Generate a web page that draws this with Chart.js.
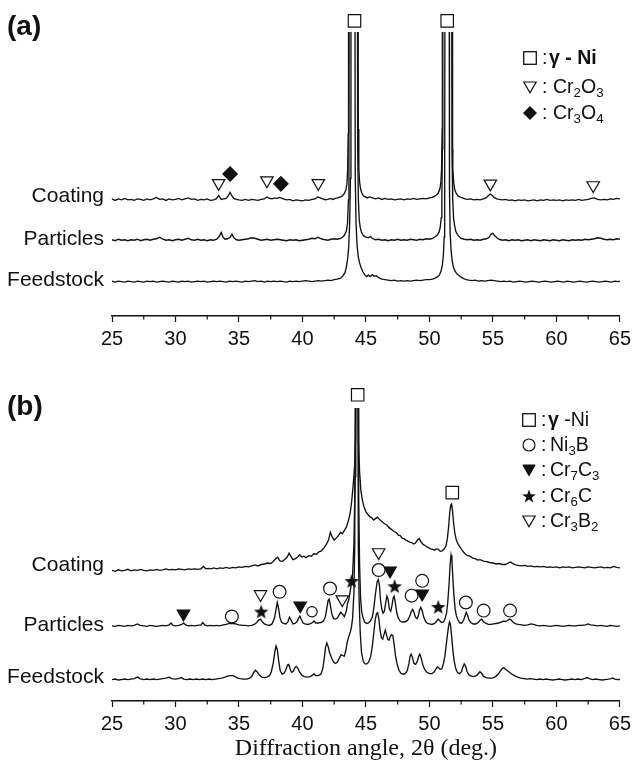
<!DOCTYPE html>
<html><head><meta charset="utf-8">
<script src="https://cdn.jsdelivr.net/npm/chart.js@4.4.1/dist/chart.umd.min.js"></script>
<style>
html,body{margin:0;padding:0;background:#fff;}
body{width:636px;height:764px;position:relative;overflow:hidden;font-family:"Liberation Sans",Arial,sans-serif;color:#111;}
canvas{position:absolute;left:0;}
.t{position:absolute;white-space:nowrap;line-height:1;}
.lab{font-size:21px;text-align:right;right:532px;}
.pan{font-size:28px;font-weight:bold;left:7px;}
.leg{font-size:19.5px;}
.leg sub{font-size:0.68em;vertical-align:-0.3em;line-height:0;}
svg{position:absolute;overflow:visible;}
</style></head><body>
<canvas id="cA" width="636" height="360" style="top:0px"></canvas>
<canvas id="cB" width="636" height="388" style="top:376px"></canvas>
<div id="overlay"></div>
<script>
// ---------------- data ----------------
const sampleNames = ['Coating', 'Particles', 'Feedstock'];
const panelNames = ['(a)', '(b)'];
const xRange = [25, 65];
const majorStep = 5;
const minorTickValues = [27.5, 32.5, 37.5, 42.5, 47.5, 52.5, 57.5, 62.5];
const axisTitle = 'Diffraction angle, 2\u03B8 (deg.)';

// panel (a) traces: [2theta, intensity, ...] (offset stacked, arbitrary units)
const coatingA = [25,119, 25.25,117.5, 25.5,119, 25.75,118, 26,119.5, 26.25,118, 26.5,118.5, 26.75,117.5, 27,119, 27.25,118.5, 27.5,117.5, 27.75,119, 28,118, 28.25,119, 28.5,120.5, 28.75,118.5, 29,119, 29.25,117.5, 29.5,119, 29.75,118, 30,118.5, 30.25,119.5, 30.5,118, 30.75,119, 31,120, 31.25,118.5, 31.5,119, 31.75,117.5, 32,118.5, 32.25,118, 32.5,119, 32.75,117.5, 33,118, 33.2,119, 33.4,122.5, 33.6,118.5, 33.8,119, 34,119.5, 34.15,122, 34.3,125.5, 34.45,122, 34.6,119.5, 34.8,118.5, 35,118, 35.25,117.5, 35.5,118.5, 35.75,117.5, 36,118.5, 36.25,118, 36.5,117.5, 36.75,118.5, 37,119, 37.2,121, 37.4,119.5, 37.6,119, 37.8,120, 38,119.5, 38.2,120.5, 38.4,119.5, 38.6,118.5, 38.8,118, 39,118.5, 39.25,117, 39.5,118, 39.75,117.5, 40,117, 40.25,118, 40.5,117.5, 40.75,118.5, 41,119, 41.2,121, 41.4,120, 41.6,119, 41.8,118, 42,118.5, 42.2,119.5, 42.4,118.5, 42.6,119.5, 42.8,120, 43,121, 43.15,122, 43.3,124.5, 43.42,128, 43.5,134, 43.56,148, 43.6,185, 43.63,420, 44,900, 44.37,420, 44.4,190, 44.44,150, 44.5,136, 44.58,129, 44.68,125, 44.8,122, 44.95,121, 45.1,120, 45.3,121, 45.5,120, 45.75,119, 46,120, 46.25,118.5, 46.5,119.5, 46.75,118.5, 47,119, 47.25,118, 47.5,118.5, 47.75,119, 48,118, 48.25,119, 48.5,118.5, 48.75,119.5, 49,118.5, 49.25,119, 49.5,119.5, 49.75,119, 50,120, 50.2,120.5, 50.4,121.5, 50.55,123, 50.7,125, 50.82,129, 50.9,135, 50.96,150, 51,190, 51.02,420, 51.4,900, 51.78,420, 51.8,190, 51.85,150, 51.92,135, 52,128, 52.1,125, 52.25,122, 52.4,121, 52.6,120, 52.8,119, 53,118.5, 53.25,119, 53.5,118, 53.75,118.5, 54,118, 54.25,119, 54.45,120, 54.65,122.5, 54.8,124, 54.95,122.5, 55.1,120.5, 55.3,119, 55.5,118.5, 55.75,118, 56,118.5, 56.25,117.5, 56.5,118, 56.75,117, 57,118, 57.25,117.5, 57.5,118, 57.75,117, 58,117.5, 58.25,118, 58.5,117, 58.75,118, 59,117.5, 59.25,118.5, 59.5,117.5, 59.75,118, 60,117.5, 60.25,118, 60.5,117, 60.75,118, 61,117.5, 61.25,118, 61.5,117.5, 61.75,118.5, 62,117.5, 62.25,118, 62.5,118.5, 62.75,119.5, 63,120, 63.25,118.5, 63.5,118, 63.75,118.5, 64,118, 64.25,119, 64.5,118.5, 64.75,119.5, 65,119];

const particlesA = [25,77.5, 25.25,76.5, 25.5,78, 25.75,77, 26,77.5, 26.25,76.5, 26.5,77.5, 26.75,77, 27,78, 27.25,76.5, 27.5,77.5, 27.75,78, 28,77, 28.25,78, 28.5,78.5, 28.75,80, 29,78, 29.25,77, 29.5,77.5, 29.75,76.5, 30,77.5, 30.25,78, 30.5,77, 30.75,78, 31,79, 31.25,77.5, 31.5,77, 31.75,78, 32,77, 32.25,77.5, 32.5,76.5, 32.75,77.5, 33,77, 33.25,78, 33.45,81, 33.6,85, 33.75,80, 33.9,78, 34.1,78.5, 34.3,80, 34.45,83, 34.6,79.5, 34.8,77.5, 35,77, 35.25,77.5, 35.5,78, 35.75,78.5, 36,79.5, 36.25,79, 36.5,78, 36.75,77, 37,77.5, 37.25,78, 37.5,77, 37.75,77.5, 38,78, 38.25,77.5, 38.5,77, 38.75,76.5, 39,77.5, 39.25,77, 39.5,77.5, 39.75,76.5, 40,77, 40.25,77.5, 40.5,78, 40.75,79, 41,78.5, 41.2,80, 41.4,79, 41.6,78, 41.8,77.5, 42,77, 42.25,78, 42.5,78.5, 42.75,78, 43,79, 43.15,80, 43.3,82, 43.45,86, 43.55,94, 43.62,118, 43.66,170, 43.69,420, 44,900, 44.32,420, 44.35,170, 44.4,120, 44.47,98, 44.55,90, 44.65,85, 44.78,82, 44.9,81, 45.05,80, 45.2,79.5, 45.35,81, 45.5,79, 45.75,77.5, 46,78, 46.25,77, 46.5,77.5, 46.75,76.5, 47,77.5, 47.25,77, 47.5,78, 47.75,77, 48,77.5, 48.25,77, 48.5,78, 48.75,77.5, 49,77, 49.25,78, 49.5,77.5, 49.75,78.5, 50,78, 50.25,79, 50.45,80.5, 50.6,82, 50.75,85, 50.85,90, 50.93,100, 50.98,120, 51.02,170, 51.05,420, 51.4,900, 51.75,420, 51.78,170, 51.83,120, 51.9,100, 51.98,92, 52.08,86, 52.2,83, 52.35,80.5, 52.5,79, 52.75,78, 53,77.5, 53.25,78, 53.5,77, 53.75,77.5, 54,77, 54.25,78, 54.5,78.5, 54.7,80, 54.85,83, 55,84, 55.15,81.5, 55.35,79, 55.5,78, 55.75,77, 56,77.5, 56.25,76.5, 56.5,77.5, 56.75,77, 57,77.5, 57.25,76.5, 57.5,77, 57.75,77.5, 58,76.5, 58.25,77.5, 58.5,77, 58.75,76.5, 59,77.5, 59.25,77, 59.5,76.5, 59.75,77.5, 60,77, 60.25,76.5, 60.5,77.5, 60.75,77, 61,76.5, 61.25,77.5, 61.5,77, 61.75,77.5, 62,77, 62.25,78, 62.5,77.5, 62.75,78, 63,78.5, 63.25,79.5, 63.5,79, 63.75,78, 64,77.5, 64.25,78, 64.5,77.5, 64.75,78.5, 65,78];

const feedstockA = [25,35.5, 25.25,34.5, 25.5,35.5, 25.75,35, 26,34.5, 26.25,35.5, 26.5,35, 26.75,34.5, 27,35.5, 27.25,35, 27.5,34.5, 27.75,35.5, 28,35, 28.25,35.5, 28.5,34.5, 28.75,35, 29,35.5, 29.25,35, 29.5,34.5, 29.75,35.5, 30,35, 30.25,34.5, 30.5,35.5, 30.75,35, 31,35.5, 31.25,34.5, 31.5,35, 31.75,35.5, 32,35, 32.25,35.5, 32.5,34.5, 32.75,35, 33,35.5, 33.25,35, 33.5,35.5, 33.75,35, 34,34.5, 34.25,35.5, 34.5,35, 34.75,35.5, 35,35, 35.25,34.5, 35.5,35.5, 35.75,35, 36,35.5, 36.25,36, 36.5,35, 36.75,35.5, 37,34.5, 37.25,35.5, 37.5,35, 37.75,35.5, 38,35, 38.25,35.5, 38.5,35, 38.75,34.5, 39,35.5, 39.25,35, 39.5,35.5, 39.75,35, 40,35.5, 40.25,36, 40.5,35.5, 40.75,35, 41,35.5, 41.25,36, 41.5,35.5, 41.75,36, 42,36.5, 42.25,36, 42.5,37, 42.75,37.5, 43,38.5, 43.2,41, 43.35,44, 43.46,50, 43.56,58, 43.64,70, 43.72,95, 43.78,140, 43.82,420, 44,900, 44.12,420, 44.16,140, 44.22,95, 44.3,72, 44.4,60, 44.5,54, 44.62,49, 44.76,45, 44.9,42, 45.05,40, 45.2,41.5, 45.35,40, 45.5,42, 45.65,40.5, 45.8,41, 46,39, 46.25,37.5, 46.5,37, 46.75,36.5, 47,36, 47.25,36.5, 47.5,35.5, 47.75,36, 48,35.5, 48.25,36, 48.5,35.5, 48.75,36, 49,36.5, 49.25,36, 49.5,36.5, 49.75,37, 50,37, 50.25,37.5, 50.45,38.5, 50.65,40, 50.8,42, 50.92,46, 51.02,52, 51.1,62, 51.16,80, 51.2,130, 51.23,420, 51.4,900, 51.55,420, 51.58,130, 51.63,85, 51.7,68, 51.78,57, 51.88,50, 52,46, 52.1,44, 52.2,42.5, 52.35,41, 52.5,39.5, 52.7,38, 52.9,37, 53.1,36.5, 53.35,36, 53.6,36.5, 53.85,35.5, 54.1,36, 54.35,35.5, 54.6,36, 54.85,36.5, 55.1,36, 55.35,35.5, 55.6,35, 55.85,35.5, 56.1,35, 56.35,35.5, 56.6,34.5, 56.85,35, 57.1,35.5, 57.35,35, 57.6,34.5, 57.85,35, 58.1,35.5, 58.35,35, 58.6,34.5, 58.85,35, 59.1,35.5, 59.35,35, 59.6,34.5, 59.85,35, 60.1,35.5, 60.35,35, 60.6,34.5, 60.85,35.5, 61.1,35, 61.35,34.5, 61.6,35, 61.85,35.5, 62.1,35, 62.35,34.5, 62.6,35, 62.85,35.5, 63.1,35, 63.35,34.5, 63.6,35, 63.85,35.5, 64.1,35, 64.35,34.5, 64.6,35.5, 64.85,35, 65,35.5];

// panel (b) traces
const coatingB = [25,134, 25.25,133, 25.5,134.5, 25.75,133.5, 26,134, 26.25,135, 26.5,133.5, 26.75,134.5, 27,134, 27.25,135, 27.5,134, 27.75,133.5, 28,134.5, 28.25,134, 28.5,135, 28.75,134, 29,134.5, 29.25,135.5, 29.5,134.5, 29.75,135, 30,134.5, 30.25,135.5, 30.5,135, 30.75,134.5, 31,135.5, 31.25,135, 31.5,135.5, 31.75,135, 32,135.5, 32.2,138, 32.4,135.5, 32.6,136, 32.8,135.5, 33,136.5, 33.25,135.5, 33.5,136.5, 33.75,136, 34,137, 34.25,136, 34.5,137, 34.75,136.5, 35,137.5, 35.25,137, 35.5,138, 35.75,137.5, 36,138.5, 36.25,139.5, 36.5,138.5, 36.75,140, 37,140.5, 37.25,141.5, 37.5,141, 37.7,143, 37.9,146, 38.05,147.5, 38.2,144, 38.4,143, 38.6,145, 38.8,147.5, 38.95,151.5, 39.1,148, 39.25,145, 39.45,146, 39.65,148, 39.8,150, 39.95,147.5, 40.1,148.5, 40.3,147, 40.5,149, 40.7,148.5, 40.9,151, 41.1,150.5, 41.3,153, 41.5,154, 41.7,157, 41.9,161, 42.05,165, 42.2,173, 42.35,168, 42.5,165, 42.65,167, 42.8,169, 43,173, 43.15,171.5, 43.3,175, 43.45,178, 43.6,184, 43.75,192, 43.88,205, 44,222, 44.1,240, 44.18,268, 44.24,400, 44.36,400, 44.42,265, 44.5,235, 44.6,216, 44.72,206, 44.85,199, 45,194, 45.15,191.5, 45.3,189, 45.45,188, 45.6,185.5, 45.75,187, 45.9,188.5, 46.05,186.5, 46.2,184.5, 46.35,183, 46.5,181.5, 46.65,180.5, 46.8,178, 46.95,176.5, 47.1,175, 47.25,173.5, 47.4,172.5, 47.55,170, 47.7,169.5, 47.85,167, 48,166.5, 48.15,165, 48.3,164, 48.45,163, 48.6,162.5, 48.75,161, 48.9,162, 49.05,165, 49.2,166.5, 49.35,163, 49.5,160.5, 49.65,159.5, 49.8,158, 49.95,157, 50.1,156, 50.25,155.5, 50.4,154.5, 50.55,156, 50.7,155.5, 50.85,153.5, 51,154, 51.15,155.5, 51.3,159, 51.42,167, 51.52,180, 51.6,193, 51.68,201, 51.75,202, 51.82,195, 51.9,183, 52,172, 52.12,165, 52.25,161, 52.4,158, 52.55,155, 52.7,152.5, 52.85,150.5, 53,149, 53.2,148.5, 53.4,146.5, 53.6,146, 53.8,144.5, 54,145, 54.25,143.5, 54.5,143, 54.75,142, 55,141.5, 55.25,140.5, 55.5,141, 55.75,140, 56,140, 56.2,141.5, 56.4,142.5, 56.6,140.5, 56.8,139.5, 57,139, 57.25,138.5, 57.5,139, 57.75,138, 58,138.5, 58.25,137.5, 58.5,138, 58.75,137.5, 59,138, 59.25,137, 59.5,137.5, 59.75,137, 60,137.5, 60.25,136.5, 60.5,137.5, 60.75,137, 61,137.5, 61.25,136.5, 61.5,137, 61.75,137.5, 62,137, 62.25,136.5, 62.5,137.5, 62.75,137, 63,136.5, 63.25,137, 63.5,137.5, 63.75,136.5, 64,137, 64.25,136.5, 64.5,138, 64.75,137, 65,136.5];

const particlesB = [25,77, 25.25,76.5, 25.5,77.5, 25.75,77, 26,76.5, 26.25,77.5, 26.5,77, 26.75,77.5, 27,79, 27.2,77.5, 27.5,77, 27.75,76.5, 28,77.5, 28.25,77, 28.5,76.5, 28.75,77, 29,77.5, 29.25,77, 29.5,78, 29.65,80, 29.8,77.5, 30,77, 30.25,77.5, 30.5,78.5, 30.65,80, 30.8,78, 31,77, 31.25,77.5, 31.5,77, 31.75,77.5, 32,78, 32.15,80.5, 32.3,78, 32.5,77, 32.75,77.5, 33,77, 33.25,77.5, 33.5,77, 33.75,78, 34,78.5, 34.25,79.5, 34.5,79.5, 34.75,79, 35,78, 35.25,77.5, 35.5,77.5, 35.75,77, 36,77.5, 36.2,78.5, 36.4,80.5, 36.55,83, 36.7,84, 36.85,81, 37,79, 37.2,78, 37.4,77.5, 37.6,79, 37.8,85, 37.92,94, 38.02,101, 38.12,95, 38.22,86, 38.35,81, 38.5,79.5, 38.7,79, 38.85,81, 38.98,86, 39.1,83, 39.25,79, 39.4,79.5, 39.55,81, 39.7,85, 39.8,87, 39.9,84, 40.05,80, 40.2,79, 40.4,78.5, 40.6,79, 40.8,80.5, 40.92,82, 41.05,80, 41.25,80, 41.45,80.5, 41.65,82, 41.8,86, 41.92,95, 42.02,103, 42.1,104.5, 42.2,98, 42.32,89, 42.45,84.5, 42.6,84, 42.75,85, 42.9,88.5, 43.02,91, 43.15,89, 43.3,86.5, 43.45,92, 43.55,100, 43.65,104, 43.75,112, 43.85,120, 43.95,130, 44.05,160, 44.15,230, 44.2,400, 44.38,400, 44.43,210, 44.5,140, 44.58,105, 44.66,92, 44.78,85, 44.9,81, 45.05,79.5, 45.2,80, 45.35,82, 45.5,86, 45.62,95, 45.75,110, 45.88,122, 45.97,124.5, 46.06,119, 46.15,103, 46.25,94, 46.35,90, 46.45,92, 46.55,100, 46.65,107.5, 46.75,104, 46.85,94, 46.95,92, 47.05,98, 47.15,106, 47.22,107.5, 47.3,102, 47.42,91, 47.55,85, 47.7,82, 47.85,81, 48,81, 48.15,81.5, 48.3,83, 48.45,87, 48.58,92, 48.68,94, 48.78,91, 48.9,86, 49.02,84.5, 49.12,87, 49.22,93, 49.32,96, 49.42,93, 49.55,86, 49.7,81.5, 49.85,79.5, 50,79, 50.2,78.5, 50.4,79.5, 50.55,81.5, 50.68,84, 50.8,82.5, 50.95,80.5, 51.1,81, 51.22,84, 51.35,90, 51.45,102, 51.55,121, 51.63,140, 51.7,149.5, 51.77,145, 51.85,125, 51.93,108, 52.02,95, 52.12,87.5, 52.25,83, 52.4,80, 52.55,80, 52.7,83, 52.82,88, 52.9,91, 53,88, 53.12,83, 53.25,80.5, 53.45,79, 53.65,79, 53.85,80.5, 54,83, 54.12,84, 54.25,81.5, 54.45,79.5, 54.65,78.5, 54.85,78.5, 55.05,79, 55.25,79.5, 55.45,80, 55.65,81, 55.85,82, 56,81.5, 56.15,82.5, 56.3,84, 56.45,83, 56.6,80.5, 56.8,79, 57,78.5, 57.25,78, 57.5,77.5, 57.75,78, 58,79, 58.2,78.5, 58.45,77.5, 58.7,77, 59,77.5, 59.25,77, 59.5,76.5, 59.75,77, 60,77.5, 60.25,77, 60.5,76.5, 60.75,77, 61,77.5, 61.25,77, 61.5,77, 61.75,77.5, 62,77.5, 62.3,78, 62.5,79, 62.7,78, 63,77.5, 63.25,77, 63.5,77.5, 63.75,77, 64,76.5, 64.25,77.5, 64.5,77, 64.75,76.5, 65,77];

const feedstockB = [25,22, 25.25,22.5, 25.5,21.5, 25.75,22, 26,22.5, 26.25,22, 26.5,22.5, 26.75,23, 27,24.5, 27.2,23, 27.5,22, 27.75,22.5, 28,22, 28.25,22.5, 28.5,22, 28.75,22.5, 29,23, 29.25,23.5, 29.5,24.5, 29.7,23, 30,22.5, 30.25,23, 30.45,24, 30.65,22.5, 30.9,22, 31.15,22.5, 31.4,22, 31.65,22.5, 31.9,22, 32.15,22.5, 32.4,22, 32.65,22.5, 32.9,22, 33.15,22.5, 33.4,23, 33.65,23.5, 33.9,24.5, 34.1,25.5, 34.3,26, 34.5,26, 34.7,25, 34.9,23.5, 35.1,23, 35.35,22.5, 35.6,22.5, 35.85,23.5, 36,25, 36.15,29, 36.3,31.5, 36.45,29.5, 36.6,26.5, 36.8,24.5, 37,24, 37.2,24.5, 37.4,26, 37.55,30, 37.7,39, 37.82,50, 37.92,56.5, 38.02,53, 38.12,42, 38.25,31, 38.4,27.5, 38.55,28.5, 38.7,32, 38.82,37, 38.92,37.5, 39.05,32, 39.15,29.5, 39.28,30.5, 39.4,34, 39.5,35.5, 39.62,34, 39.78,29.5, 39.95,26.5, 40.15,25, 40.4,24.5, 40.6,25, 40.8,26.5, 40.92,28, 41.05,26, 41.25,26, 41.45,27.5, 41.6,33, 41.72,44, 41.82,55, 41.92,59.5, 42.02,56, 42.15,49, 42.3,44, 42.45,40, 42.6,38.5, 42.75,40, 42.9,44, 43.05,47.5, 43.18,46.5, 43.3,46, 43.42,52, 43.52,60, 43.62,65, 43.75,70, 43.85,75, 43.95,85, 44.05,110, 44.12,160, 44.17,400, 44.35,400, 44.4,160, 44.46,105, 44.55,70, 44.65,50, 44.78,41, 44.92,38, 45.08,38, 45.22,40, 45.38,46, 45.5,56, 45.62,70, 45.73,83, 45.83,89.5, 45.92,90.5, 46.02,84, 46.12,72, 46.22,65, 46.32,63.5, 46.42,68, 46.52,72.5, 46.62,68, 46.72,63, 46.82,62.5, 46.92,66, 47.02,68, 47.12,67, 47.22,58, 47.32,47, 47.45,38, 47.6,31.5, 47.75,28.5, 47.95,27.5, 48.1,28, 48.25,31, 48.38,38, 48.48,46, 48.56,48, 48.66,45, 48.78,38.5, 48.92,37.5, 49.05,41, 49.16,46, 49.25,48, 49.35,44, 49.48,37, 49.62,32.5, 49.8,29.5, 50,28, 50.2,28, 50.38,30, 50.52,33, 50.62,35, 50.72,34, 50.85,32.5, 50.98,33, 51.1,38, 51.22,46, 51.32,57, 51.42,68, 51.5,76, 51.58,81, 51.65,79, 51.74,68, 51.84,53, 51.95,41, 52.08,33, 52.22,29, 52.38,28, 52.52,30, 52.64,35, 52.74,38, 52.84,36, 52.96,30.5, 53.1,27, 53.3,25.5, 53.5,25, 53.7,26, 53.85,28, 53.97,30, 54.1,28.5, 54.25,25.5, 54.45,24, 54.7,23.5, 54.95,23.5, 55.15,24.5, 55.35,26.5, 55.5,29, 55.62,31.5, 55.75,33.5, 55.87,34, 56,32.5, 56.15,31, 56.3,29.5, 56.5,27.5, 56.7,26, 56.95,24.5, 57.2,23.5, 57.45,23, 57.7,22.5, 57.95,23, 58.2,22.5, 58.45,22, 58.7,22.5, 58.95,22, 59.2,22.5, 59.45,22, 59.7,21.5, 59.95,22, 60.2,22.5, 60.45,22, 60.7,21.5, 60.95,22, 61.2,22.5, 61.45,22, 61.7,22.5, 61.95,22, 62.2,23, 62.4,24, 62.6,23, 62.85,22, 63.1,22.5, 63.35,22, 63.6,21.5, 63.85,22, 64.1,22.5, 64.3,23, 64.45,23.5, 64.6,22.5, 64.8,22, 65,22];

// phase markers [2theta, height, ...]
const gammaNiA = [44.1,300, 51.4,300];
const cr2o3A = [33.4,135, 37.2,137.7, 41.25,135, 54.8,134.5, 62.9,132.8];
const cr3o4A = [34.3,144.3, 38.3,134.3];
const gammaNiB = [44.35,314, 51.8,213.7];
const ni3bB = [34.44,86.7, 38.2,112, 40.75,91.5, 42.17,115.3, 46.0,134.3, 48.6,108, 49.43,123.2, 52.87,101, 54.27,92.7, 56.35,92.7];
const cr7c3B = [30.63,89.5, 39.82,97.8, 46.9,133.6, 49.43,110.1];
const cr6cB = [36.75,91.7, 43.88,123, 47.26,117.7, 50.7,96.5];
const cr3b2B = [36.7,109.4, 43.14,104.2, 46.0,152.4];

const legendA = [
  {mark: 'square', html: '<b>\u03B3 - Ni</b>'},
  {mark: 'triOpen', html: 'Cr<sub>2</sub>O<sub>3</sub>'},
  {mark: 'diamond', html: 'Cr<sub>3</sub>O<sub>4</sub>'}
];
const legendB = [
  {mark: 'square', html: '<b>\u03B3</b> -Ni'},
  {mark: 'circle', html: 'Ni<sub>3</sub>B'},
  {mark: 'triFilled', html: 'Cr<sub>7</sub>C<sub>3</sub>'},
  {mark: 'star', html: 'Cr<sub>6</sub>C'},
  {mark: 'triOpen', html: 'Cr<sub>3</sub>B<sub>2</sub>'}
];

// ---------------- layout / style ----------------
const INK = '#111';
const sansFont = '"Liberation Sans", Arial, sans-serif';
const serifFont = '"Liberation Serif", "Times New Roman", serif';

const pairs = flat => { const out = []; for (let i = 0; i < flat.length; i += 2) out.push({x: flat[i], y: flat[i + 1]}); return out; };

function starCanvas(R) {
  const s = Math.ceil(R * 2 + 2);
  const c = document.createElement('canvas'); c.width = s; c.height = s;
  const g = c.getContext('2d'); g.fillStyle = INK; g.beginPath();
  for (let k = 0; k < 10; k++) {
    const r = k % 2 ? R * 0.42 : R; const a = -Math.PI / 2 + k * Math.PI / 5;
    g.lineTo(s / 2 + r * Math.cos(a), s / 2 + 0.7 + r * Math.sin(a));
  }
  g.closePath(); g.fill(); return c;
}
const starImg = starCanvas(7.6);

const minorTicksPlugin = {
  id: 'minorTicks',
  afterDraw(chart) {
    const sx = chart.scales.x, ctx = chart.ctx, y0 = chart.chartArea.bottom;
    ctx.save(); ctx.strokeStyle = INK; ctx.lineWidth = 1.2;
    for (const v of minorTickValues) {
      const px = sx.getPixelForValue(v);
      ctx.beginPath(); ctx.moveTo(px, y0); ctx.lineTo(px, y0 + 3.5); ctx.stroke();
    }
    ctx.restore();
  }
};

const traceStyle = clipTop => ({showLine: true, pointRadius: 0, borderColor: INK, borderWidth: 1.35,
  clip: {left: false, right: false, top: clipTop, bottom: false}});

const ni3bRadii = [6.4, 6.4, 5.2, 6.4, 6.4, 6.4, 6.4, 6.4, 6.4, 6.4];

function marker(flat, style) {
  const base = {data: pairs(flat), showLine: false, clip: false, pointBorderColor: INK, pointBorderWidth: 1.2};
  switch (style) {
    case 'square': return Object.assign(base, {pointStyle: 'rect', pointRadius: 8.8, pointBackgroundColor: '#fff'});
    case 'triOpen': return Object.assign(base, {pointStyle: 'triangle', pointRotation: 180, pointRadius: 7.2, pointBackgroundColor: '#fff'});
    case 'triFilled': return Object.assign(base, {pointStyle: 'triangle', pointRotation: 180, pointRadius: 7.2, pointBackgroundColor: INK});
    case 'diamond': return Object.assign(base, {pointStyle: 'rectRot', pointRadius: 7.2, pointBackgroundColor: INK});
    case 'circle': return Object.assign(base, {pointStyle: 'circle', pointRadius: ni3bRadii, pointBackgroundColor: '#fff'});
    case 'star': return Object.assign(base, {pointStyle: starImg, pointRadius: 8});
  }
}

function panel(id, yMax, scaleHeight, padTop, datasets, withTitle) {
  return new Chart(document.getElementById(id), {
    type: 'scatter',
    data: {datasets},
    options: {
      responsive: false, animation: false, events: [],
      layout: {padding: {left: 112, right: 14, top: padTop, bottom: 0}},
      plugins: {legend: {display: false}, tooltip: {enabled: false}},
      scales: {
        x: {
          type: 'linear', min: xRange[0], max: xRange[1],
          ticks: {stepSize: majorStep, autoSkip: false, maxRotation: 0, padding: 5, color: INK, font: {family: sansFont, size: 20}},
          grid: {drawOnChartArea: false, drawTicks: true, tickLength: 6, tickWidth: 1.2, tickColor: INK},
          border: {display: true, color: INK, width: 1.4},
          title: withTitle ? {display: true, text: axisTitle, color: INK, font: {family: serifFont, size: 24}, padding: {top: 0, bottom: 1}} : {display: false},
          afterFit: s => { s.height = scaleHeight; }
        },
        y: {display: false, min: 0, max: yMax}
      }
    },
    plugins: [minorTicksPlugin]
  });
}

panel('cA', 311, 44, 5, [
  marker(gammaNiA, 'square'), marker(cr2o3A, 'triOpen'), marker(cr3o4A, 'diamond'),
  Object.assign({data: pairs(coatingA)}, traceStyle(-22)),
  Object.assign({data: pairs(particlesA)}, traceStyle(-22)),
  Object.assign({data: pairs(feedstockA)}, traceStyle(-22))
], false);

panel('cB', 323, 63, 2, [
  marker(gammaNiB, 'square'), marker(cr3b2B, 'triOpen'), marker(ni3bB, 'circle'),
  marker(cr7c3B, 'triFilled'), marker(cr6cB, 'star'),
  Object.assign({data: pairs(coatingB)}, traceStyle(-22)),
  Object.assign({data: pairs(particlesB)}, traceStyle(-22)),
  Object.assign({data: pairs(feedstockB)}, traceStyle(-22))
], true);

// ---------------- text overlays ----------------
function symbolSvg(kind, cx, cy) {
  let inner = '';
  if (kind === 'square') inner = '<rect x="0.7" y="0.7" width="12.6" height="12.6" fill="#fff" stroke="#111" stroke-width="1.3"/>';
  else if (kind === 'triOpen') inner = '<polygon points="0.8,2 13.2,2 7,12.8" fill="#fff" stroke="#111" stroke-width="1.2"/>';
  else if (kind === 'triFilled') inner = '<polygon points="0.8,2 13.2,2 7,12.8" fill="#111" stroke="#111" stroke-width="1"/>';
  else if (kind === 'diamond') inner = '<polygon points="7,0 14,7 7,14 0,7" fill="#111"/>';
  else if (kind === 'circle') inner = '<circle cx="7" cy="7" r="6" fill="#fff" stroke="#111" stroke-width="1.2"/>';
  else if (kind === 'star') {
    const pts = [];
    for (let k = 0; k < 10; k++) { const r = k % 2 ? 2.9 : 7.2; const a = -Math.PI / 2 + k * Math.PI / 5; pts.push((7 + r * Math.cos(a)).toFixed(2) + ',' + (7.7 + r * Math.sin(a)).toFixed(2)); }
    inner = '<polygon points="' + pts.join(' ') + '" fill="#111"/>';
  }
  return '<svg width="14" height="14" viewBox="0 0 14 14" style="left:' + (cx - 7) + 'px;top:' + (cy - 7) + 'px">' + inner + '</svg>';
}

const ov = [];
ov.push('<div class="t pan" style="top:12px">' + panelNames[0] + '</div>');
ov.push('<div class="t pan" style="top:392px">' + panelNames[1] + '</div>');
const labTopsA = [183.7, 226.7, 268], labTopsB = [552.7, 613, 664.7];
sampleNames.forEach((n, i) => {
  ov.push('<div class="t lab" style="top:' + labTopsA[i] + 'px">' + n + '</div>');
  ov.push('<div class="t lab" style="top:' + labTopsB[i] + 'px">' + n + '</div>');
});
const legRowsA = [57.5, 86.7, 113], legRowsB = [420, 445, 470, 496, 521];
legendA.forEach((e, i) => {
  const y = legRowsA[i], top = y - 9.6;
  ov.push(symbolSvg(e.mark, 530, y));
  ov.push('<div class="t leg" style="left:542px;top:' + top + 'px">:</div>');
  ov.push('<div class="t leg" style="left:' + (i === 0 ? 549 : 553) + 'px;top:' + top + 'px">' + e.html + '</div>');
});
legendB.forEach((e, i) => {
  const y = legRowsB[i], top = y - 9.6;
  ov.push(symbolSvg(e.mark, 529, y));
  ov.push('<div class="t leg" style="left:541px;top:' + top + 'px">:</div>');
  ov.push('<div class="t leg" style="left:' + (i === 0 ? 548 : 550) + 'px;top:' + top + 'px">' + e.html + '</div>');
});
document.getElementById('overlay').innerHTML = ov.join('');
</script>
</body></html>
